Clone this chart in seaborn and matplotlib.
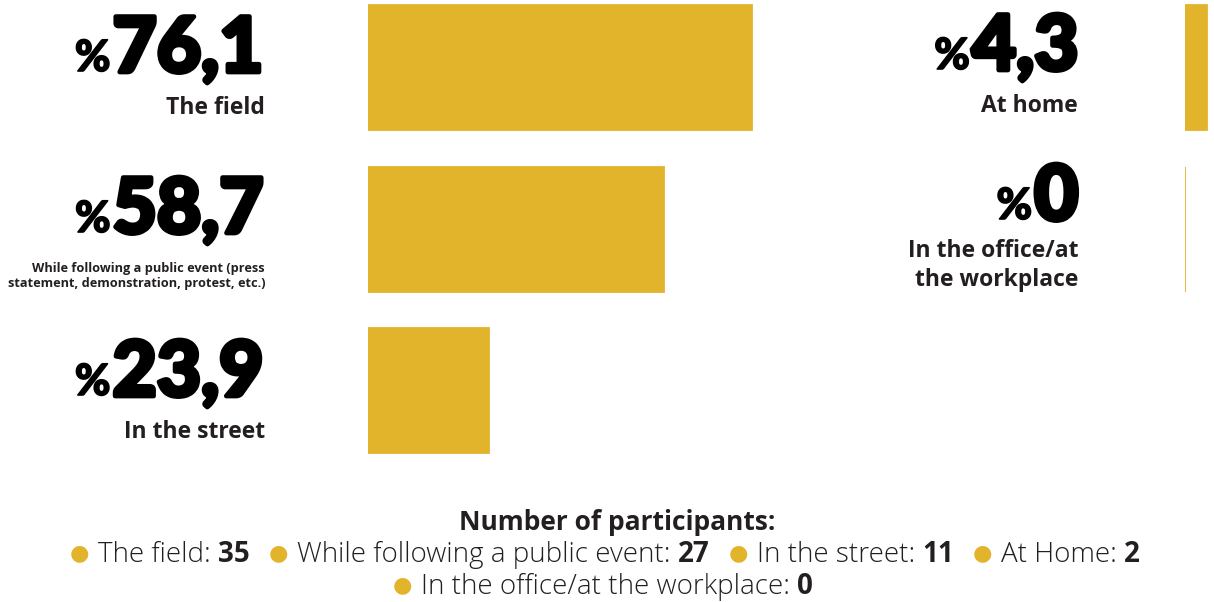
import matplotlib
matplotlib.use("Agg")
import matplotlib.pyplot as plt
import matplotlib.patheffects as pe
import seaborn as sns
import pandas as pd

# ---------------- data ----------------
categories_left = ["The field",
                   "While following a public event (press\nstatement, demonstration, protest, etc.)",
                   "In the street"]
values_left = [76.1, 58.7, 23.9]
categories_right = ["At home", "In the office/at\nthe workplace"]
values_right = [4.3, 0.0]
legend_names = ["The field", "While following a public event", "In the street",
                "At Home", "In the office/at the workplace"]
participants = [35, 27, 11, 2, 0]
legend_title = "Number of participants:"

# ---------------- style ----------------
GOLD = "#E2B42C"
DARK = "#231F20"
W, H = 1214, 602
NUM_FONT = ["Lato", "DejaVu Sans"]
LAB_FONT = ["Open Sans", "DejaVu Sans"]

fig = plt.figure(figsize=(W / 100, H / 100), dpi=100)
fig.patch.set_facecolor("white")


def fx(px):
    return px / W


def fy(py):
    return 1 - py / H


def fmt(v):
    s = f"{v:g}"
    return s.replace(".", ",")


def bar_axes(left_px, cats, vals):
    ax = fig.add_axes([fx(left_px), fy(460), fx(500), 460 / H])
    df = pd.DataFrame({"category": cats, "value": vals})
    sns.barplot(data=df, x="value", y="category", orient="h", color=GOLD,
                saturation=1, width=0.774, edgecolor=GOLD, linewidth=1.3, ax=ax)
    ax.set_xlim(0, 99)
    ax.set_ylim(2.430, -0.418)
    ax.axis("off")
    return ax


ax_l = bar_axes(368, categories_left, values_left)
ax_r = bar_axes(1185, categories_right, values_right)

renderer = fig.canvas.get_renderer()
thick = [pe.withStroke(linewidth=3.4, foreground="black")]


def big_number(value, right_px, base_px):
    t = fig.text(fx(right_px - 1.5), fy(base_px), fmt(value), ha="right", va="baseline",
                 fontsize=55, fontweight="black", family=NUM_FONT, color="black",
                 path_effects=thick)
    bb = t.get_window_extent(renderer)
    fig.text((bb.x0 - 2) / W, fy(base_px - 1), "%", ha="right", va="baseline",
             fontsize=31, fontweight="black", family=NUM_FONT, color="black",
             path_effects=[pe.withStroke(linewidth=1.2, foreground="black")])


def label(text, right_px, last_base_px, size, spacing):
    lines = text.split("\n")
    n = len(lines)
    for i, ln in enumerate(lines):
        y = last_base_px - (n - 1 - i) * spacing
        fig.text(fx(right_px), fy(y), ln, ha="right", va="baseline",
                 fontsize=size, fontweight="bold", family=LAB_FONT, color=DARK)


# left column
big_number(values_left[0], 265, 72)
label(categories_left[0], 265, 114, 16.5, 0)
big_number(values_left[1], 265, 233)
label(categories_left[1], 265, 287, 9.2, 15)
big_number(values_left[2], 265, 396)
label(categories_left[2], 265, 438, 16.5, 0)

# right column
big_number(values_right[0], 1080, 70)
label(categories_right[0], 1078, 112, 16.5, 0)
big_number(values_right[1], 1080, 220)
label(categories_right[1], 1078, 286, 16.5, 29)

# ---------------- legend ----------------
fig.text(fx(617), fy(530), legend_title, ha="center", va="baseline",
         fontsize=19, fontweight="bold", family=LAB_FONT, color=DARK)


def legend_line(indices, base_px, center_px):
    pieces = []
    for k, i in enumerate(indices):
        pieces.append(("●", dict(color=GOLD, family=["DejaVu Sans"], fontsize=16), 9, 3))
        pieces.append((legend_names[i] + ":", dict(color=DARK, family=LAB_FONT,
                                                    fontweight="light", fontsize=20), 7, 0))
        pieces.append((str(participants[i]), dict(color=DARK, family=LAB_FONT,
                                                   fontweight="bold", fontsize=20),
                       19 if k < len(indices) - 1 else 0, 0))
    texts = []
    widths = []
    for s, props, gap, lift in pieces:
        t = fig.text(0, fy(base_px - lift), s, ha="left", va="baseline", **props)
        texts.append(t)
        widths.append(t.get_window_extent(renderer).width)
    total = sum(widths) + sum(p[2] for p in pieces)
    x = center_px - total / 2
    for t, w, p in zip(texts, widths, pieces):
        t.set_x(fx(x))
        x += w + p[2]


legend_line([0, 1, 2, 3], 562, 605)
legend_line([4], 594, 603)

fig.savefig("out.png", dpi=100, facecolor="white")
